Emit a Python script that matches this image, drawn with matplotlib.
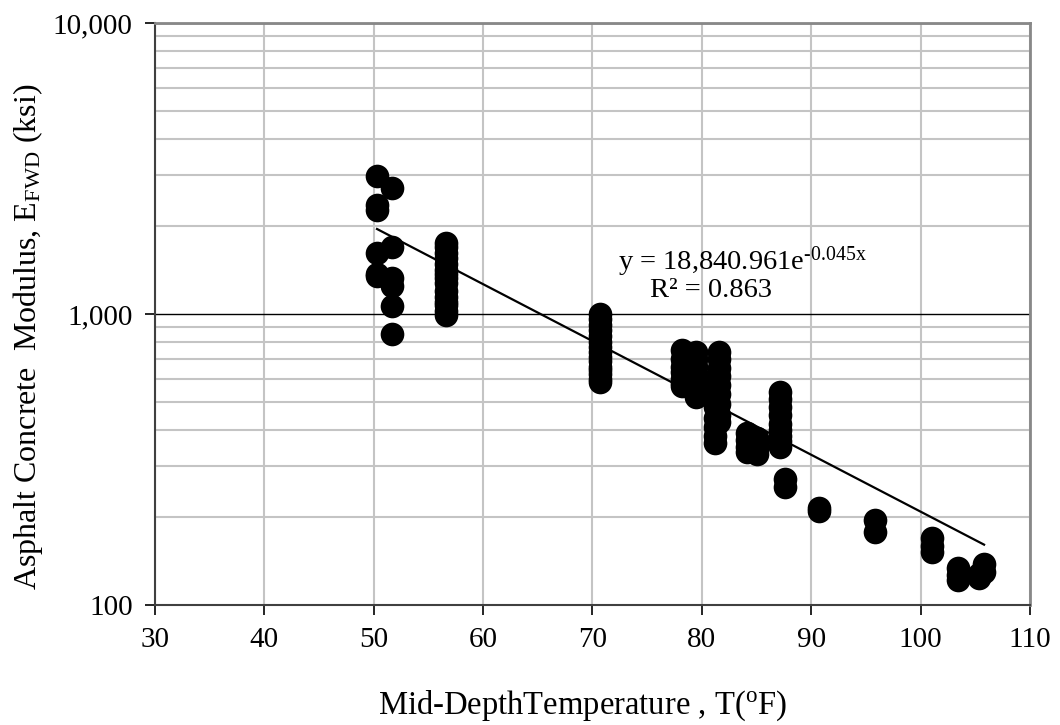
import matplotlib.pyplot as plt
import numpy as np
from matplotlib.ticker import FixedLocator, FuncFormatter, LogLocator, NullFormatter

plt.rcParams['font.family'] = ['Liberation Serif', 'DejaVu Serif']
plt.rcParams['mathtext.fontset'] = 'custom'
plt.rcParams['mathtext.rm'] = 'Liberation Serif'
plt.rcParams['mathtext.it'] = 'Liberation Serif:italic'

# FWD backcalculated modulus vs. mid-depth temperature
temp_50 = [50.3, 50.3, 50.3, 50.3, 50.3, 50.3]
mod_50 = [2980, 2370, 2280, 1620, 1370, 1350]
temp_51 = [51.7, 51.7, 51.7, 51.7, 51.7, 51.7]
mod_51 = [2710, 1700, 1330, 1250, 1065, 853]
temp_56 = [56.6] * 15
mod_56 = [1750, 1700, 1620, 1560, 1480, 1420, 1370, 1330, 1280, 1200,
          1140, 1100, 1070, 1020, 990]
temp_70 = [70.7] * 15
mod_70 = [1000, 960, 920, 880, 840, 800, 770, 740, 710, 690,
          660, 640, 620, 600, 585]
temp_78 = [78.2] * 7
mod_78 = [750, 700, 660, 630, 600, 580, 565]
temp_79 = [79.5] * 7
mod_79 = [740, 700, 660, 620, 580, 550, 520]
temp_81a = [81.2] * 8
mod_81a = [600, 560, 520, 480, 440, 410, 380, 360]
temp_81b = [81.6] * 9
mod_81b = [740, 700, 650, 610, 570, 530, 490, 450, 425]
temp_84 = [84.1, 84.1, 84.1, 84.1, 85.0, 85.0, 85.0, 85.0]
mod_84 = [390, 370, 350, 335, 375, 360, 345, 330]
temp_87 = [87.1] * 9
mod_87 = [540, 510, 480, 450, 420, 400, 380, 365, 350]
temp_hot = [87.6, 87.6, 90.7, 90.7, 95.8, 95.8, 101.0, 101.0, 101.0,
            103.4, 103.4, 103.4, 105.3, 105.3, 105.8, 105.8]
mod_hot = [270, 255, 215, 210, 196, 178, 170, 160, 152,
           134, 127, 122, 128, 124, 138, 130]

temps = np.concatenate([temp_50, temp_51, temp_56, temp_70, temp_78, temp_79,
                        temp_81a, temp_81b, temp_84, temp_87, temp_hot])
mods = np.concatenate([mod_50, mod_51, mod_56, mod_70, mod_78, mod_79,
                       mod_81a, mod_81b, mod_84, mod_87, mod_hot])

# exponential trendline as reported on the chart
coef_a = 18840.961
coef_b = -0.045
r2 = 0.863

fig = plt.figure(figsize=(10.6, 7.25), dpi=100)
ax = fig.add_axes([0.1462, 0.1655, 0.8255, 0.8028])

ax.set_yscale('log')
ax.set_xlim(30, 110)
ax.set_ylim(100, 10000)

# grid
ax.set_xticks(np.arange(30, 111, 10))
ax.yaxis.set_major_locator(FixedLocator([100, 1000, 10000]))
ax.yaxis.set_minor_locator(LogLocator(base=10, subs=np.arange(2, 10)))
ax.yaxis.set_minor_formatter(NullFormatter())
ax.yaxis.set_major_formatter(FuncFormatter(lambda v, p: f'{int(v):,}'))
ax.grid(True, axis='x', color='#c4c4c4', lw=1.5)
ax.grid(True, axis='y', which='minor', color='#c4c4c4', lw=1.5)
ax.grid(True, axis='y', which='major', color='black', lw=1.0)
ax.set_axisbelow(True)

ax.tick_params(axis='both', which='major', direction='out', length=7,
               width=1.2, labelsize=21, color='black', pad=9)
ax.tick_params(axis='y', which='minor', length=0)

for s in ['left', 'bottom']:
    ax.spines[s].set_color('#404040')
    ax.spines[s].set_linewidth(1.5)
for s in ['top', 'right']:
    ax.spines[s].set_color('#888888')
    ax.spines[s].set_linewidth(2)

ax.scatter(temps, mods, s=290, color='black', zorder=3, linewidths=0)

xt = np.linspace(temps.min(), temps.max(), 100)
ax.plot(xt, coef_a * np.exp(coef_b * xt), color='black', lw=1.6, zorder=4)

ax.text(83.7, 1510, r'y = 18,840.961e$^{\text{-0.045x}}$', fontsize=20.5,
        ha='center', va='center')
ax.text(80.8, 1200, 'R² = %.3f' % r2, fontsize=20.5, ha='center', va='center')

ax.set_xlabel(r'Mid-DepthTemperature , T($^{\rm o}$F)', fontsize=23.5)
ax.set_ylabel(r'Asphalt Concrete  Modulus, E$_{\rm FWD}$ (ksi)',
              fontsize=23)
ax.xaxis.set_label_coords(0.489, -0.143)
ax.yaxis.set_label_coords(-0.126, 0.46)

fig.savefig('out.png', dpi=100)
